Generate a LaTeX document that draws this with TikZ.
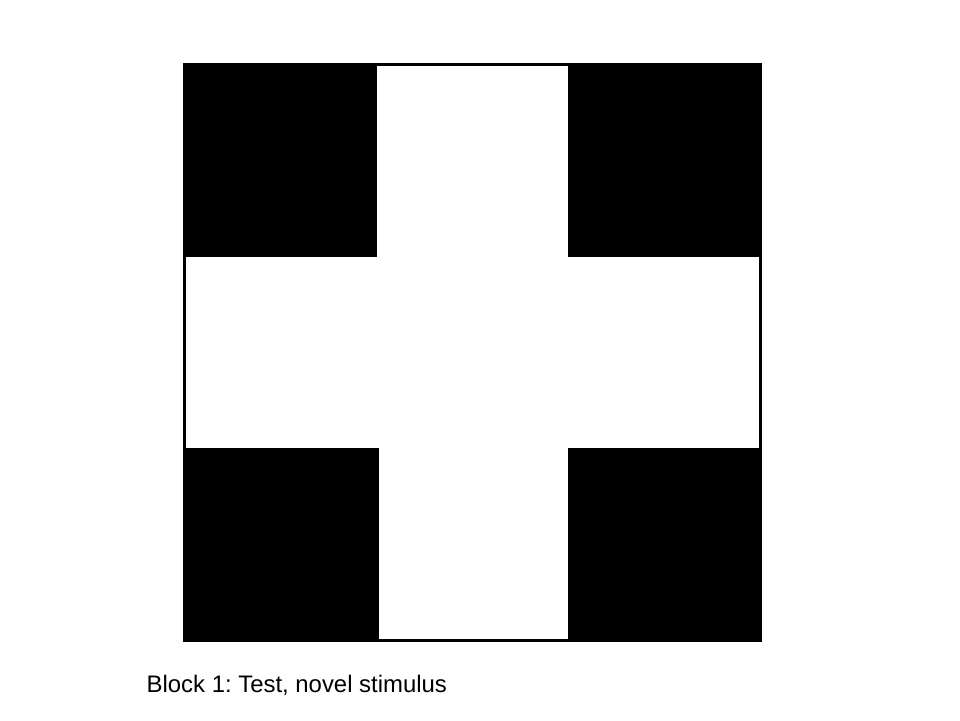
\documentclass[tikz,border=0pt]{standalone}
\usepackage{fontspec}
\setmainfont{Liberation Sans}
\frenchspacing
\begin{document}
\begin{tikzpicture}[x=1pt,y=-1pt,
  blk/.style={fill=black,draw=none},
  frame/.style={draw=black,line width=3pt}]
\useasboundingbox[fill=white] (0,0) rectangle (960,720);
\fill[blk] (183,63) rectangle (377,257);
\fill[blk] (568,63) rectangle (762,257);
\fill[blk] (183,448) rectangle (379,641);
\fill[blk] (568,448) rectangle (762,642);
\draw[frame] (184.5,64.5) rectangle (760.5,640.5);
\node[anchor=base west,inner sep=0pt,font=\fontsize{23.9}{28}\selectfont] (cap) at (146.5,692) {\frenchspacing Block 1: Test, novel stimulus};
\end{tikzpicture}
\end{document}
